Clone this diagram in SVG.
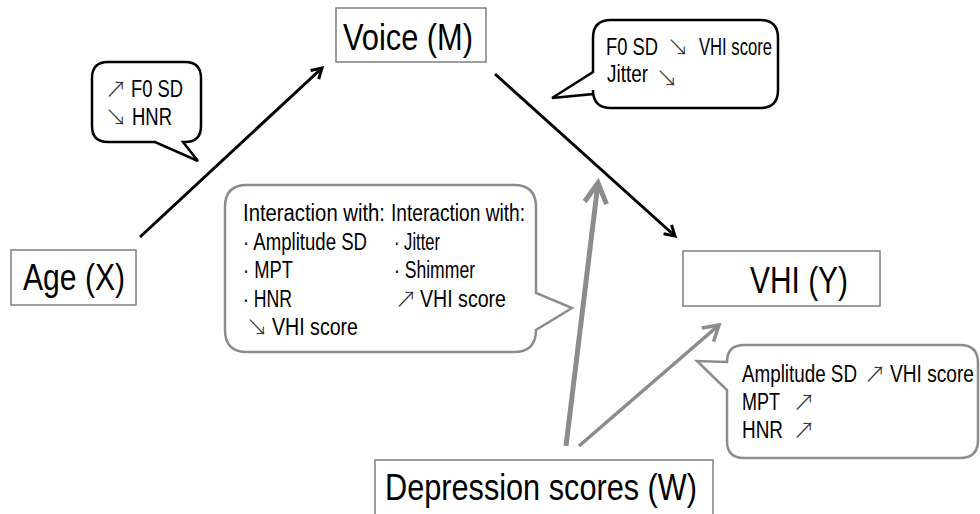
<svg xmlns="http://www.w3.org/2000/svg" width="980" height="514" viewBox="0 0 980 514">
<style>
.node{fill:#fff;stroke:#7f7f7f;stroke-width:1.5}
.nt{font-family:"Liberation Sans",Arial,sans-serif;font-size:37px;fill:#000}
.ct{font-family:"Liberation Sans",Arial,sans-serif;font-size:23.5px;fill:#000}
.ar{font-family:"Noto Sans CJK JP","DejaVu Sans",sans-serif;font-size:22px;fill:#333;font-weight:300}
.cb{fill:#fff;stroke:#000;stroke-width:2.5;stroke-linejoin:miter}
.cg{fill:#fff;stroke:#8c8c8c;stroke-width:2.5;stroke-linejoin:miter}
.lb{stroke:#000;stroke-width:3;fill:none}
.lg{stroke:#8c8c8c;fill:none}
</style>
<defs>
<marker id="hb" markerUnits="userSpaceOnUse" viewBox="-3 -3 18 18" markerWidth="18" markerHeight="18" refX="10" refY="6" orient="auto" overflow="visible">
<path d="M0,0 L10,6 L0,12" fill="none" stroke="#000" stroke-width="3"/>
</marker>
<marker id="hg1" markerUnits="userSpaceOnUse" viewBox="-4 -4 30 30" markerWidth="30" markerHeight="30" refX="20" refY="11" orient="auto" overflow="visible">
<path d="M0,0 L20,11 L0,22" fill="none" stroke="#8c8c8c" stroke-width="5"/>
</marker>
<marker id="hg2" markerUnits="userSpaceOnUse" viewBox="-4 -4 26 26" markerWidth="26" markerHeight="26" refX="15" refY="9" orient="auto" overflow="visible">
<path d="M0,0 L15,9 L0,18" fill="none" stroke="#8c8c8c" stroke-width="3.5"/>
</marker>
</defs>
<rect width="980" height="514" fill="#fff"/>

<g id="connectors">
<line class="lb" x1="140" y1="237" x2="322" y2="68" marker-end="url(#hb)"/>
<line class="lb" x1="495" y1="74" x2="675" y2="236" marker-end="url(#hb)"/>
<line class="lg" stroke-width="5" x1="566" y1="446" x2="598" y2="183" marker-end="url(#hg1)"/>
<line class="lg" stroke-width="3.5" x1="579" y1="446" x2="719" y2="325" marker-end="url(#hg2)"/>
</g>

<g id="node-voice">
<rect class="node" x="336" y="8" width="150" height="54"/>
<text class="nt" x="343" y="50" textLength="130" lengthAdjust="spacingAndGlyphs">Voice (M)</text>
</g>
<g id="node-age">
<rect class="node" x="11" y="250" width="125" height="55"/>
<text class="nt" x="23" y="290" textLength="102" lengthAdjust="spacingAndGlyphs">Age (X)</text>
</g>
<g id="node-vhi">
<rect class="node" x="683" y="251" width="197" height="55"/>
<text class="nt" x="750" y="293" textLength="98" lengthAdjust="spacingAndGlyphs">VHI (Y)</text>
</g>
<g id="node-depression">
<rect class="node" x="375" y="460" width="338" height="60"/>
<text class="nt" x="385" y="500" textLength="312" lengthAdjust="spacingAndGlyphs">Depression scores (W)</text>
</g>

<g id="callout-age">
<path class="cb" d="M108,62 H185 Q201,62 201,78 V126 Q201,142 185,142 H183 L198,161 L155,142 H108 Q92,142 92,126 V78 Q92,62 108,62 Z"/>
<text class="ct" y="97"><tspan class="ar" x="105">↗</tspan><tspan x="131" textLength="52" lengthAdjust="spacingAndGlyphs">F0 SD</tspan></text>
<text class="ct" y="125"><tspan class="ar" x="105">↘</tspan><tspan x="132" textLength="40" lengthAdjust="spacingAndGlyphs">HNR</tspan></text>
</g>

<g id="callout-voice">
<path class="cb" d="M611,20 H760 Q778,20 778,38 V90 Q778,108 760,108 H611 Q593,108 593,90 V94 L552,98 L593,72 V38 Q593,20 611,20 Z"/>
<text class="ct" y="55"><tspan x="606" textLength="52" lengthAdjust="spacingAndGlyphs">F0 SD</tspan><tspan class="ar" x="667">↘</tspan><tspan x="699" textLength="73" lengthAdjust="spacingAndGlyphs">VHI score</tspan></text>
<text class="ct" y="82"><tspan x="607" textLength="41" lengthAdjust="spacingAndGlyphs">Jitter</tspan><tspan class="ar" x="656" dy="4">↘</tspan></text>
</g>

<g id="callout-interaction">
<path class="cg" d="M247,185 H514 Q536,185 536,207 V293 L572,308 L536,330 Q536,352 514,352 H247 Q225,352 225,330 V207 Q225,185 247,185 Z"/>
<text class="ct" x="243" y="221" textLength="142" lengthAdjust="spacingAndGlyphs">Interaction with:</text>
<text class="ct" x="243" y="250" textLength="124" lengthAdjust="spacingAndGlyphs">· Amplitude SD</text>
<text class="ct" x="243" y="278" textLength="50" lengthAdjust="spacingAndGlyphs">· MPT</text>
<text class="ct" x="243" y="307" textLength="49" lengthAdjust="spacingAndGlyphs">· HNR</text>
<text class="ct" y="335"><tspan class="ar" x="246">↘</tspan><tspan x="272" textLength="86" lengthAdjust="spacingAndGlyphs">VHI score</tspan></text>
<text class="ct" x="391" y="221" textLength="134" lengthAdjust="spacingAndGlyphs">Interaction with:</text>
<text class="ct" x="394" y="250" textLength="46" lengthAdjust="spacingAndGlyphs">· Jitter</text>
<text class="ct" x="394" y="278" textLength="81" lengthAdjust="spacingAndGlyphs">· Shimmer</text>
<text class="ct" y="307"><tspan class="ar" x="395">↗</tspan><tspan x="420" textLength="86" lengthAdjust="spacingAndGlyphs">VHI score</tspan></text>
</g>

<g id="callout-depression">
<path class="cg" d="M744,345 H960 Q978,345 978,363 V440 Q978,458 960,458 H744 Q727,458 727,441 V390 L697,361 L727,362 Q727,345 744,345 Z"/>
<text class="ct" y="382"><tspan x="742" textLength="115" lengthAdjust="spacingAndGlyphs">Amplitude SD</tspan><tspan class="ar" x="864">↗</tspan><tspan x="890" textLength="84" lengthAdjust="spacingAndGlyphs">VHI score</tspan></text>
<text class="ct" y="410"><tspan x="742" textLength="38" lengthAdjust="spacingAndGlyphs">MPT</tspan><tspan class="ar" x="793">↗</tspan></text>
<text class="ct" y="438"><tspan x="742" textLength="41" lengthAdjust="spacingAndGlyphs">HNR</tspan><tspan class="ar" x="793">↗</tspan></text>
</g>
</svg>
